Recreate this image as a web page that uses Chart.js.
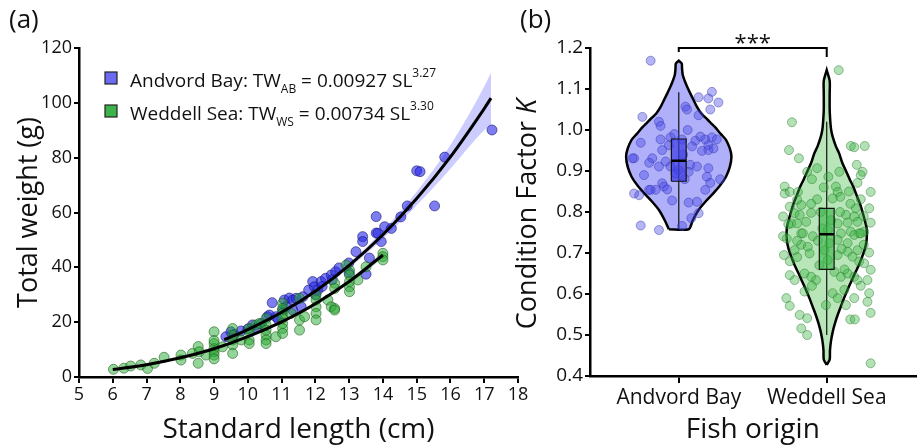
<!DOCTYPE html>
<html>
<head>
<meta charset="utf-8">
<script src="https://cdn.jsdelivr.net/npm/chart.js@4.4.1/dist/chart.umd.min.js"></script>
<style>
html, body { margin: 0; padding: 0; background: #fff; }
#wrap { position: relative; width: 921px; height: 448px; overflow: hidden; }
#boxA { position: absolute; left: 0; top: 0; width: 540px; height: 448px; }
#boxB { position: absolute; left: 495px; top: 0; width: 426px; height: 448px; }
</style>
</head>
<body>
<div id="wrap">
  <div id="boxA"><canvas id="chartA"></canvas></div>
  <div id="boxB"><canvas id="chartB"></canvas></div>
</div>
<script>
// ---------- panel (a): length-weight ----------
var groups = ["Andvord Bay", "Weddell Sea"];
var groupSubs = ["AB", "WS"];
var fitCoefs = ["0.00927", "0.00734"];
var fitExps = ["3.27", "3.30"];

var abLength = [9.35, 9.5, 9.6, 9.8, 10.0, 10.14, 10.24, 10.4, 10.58, 10.64, 10.72, 10.83, 10.9, 11.03, 11.08, 11.13,
  11.23, 11.33, 11.33, 11.43, 11.58, 11.63, 11.8, 11.92, 11.97, 12.07, 12.17, 12.3, 12.0, 12.2, 12.47, 12.6, 12.7,
  12.5, 12.99, 13.0, 13.2, 13.4, 13.4, 13.6, 13.5, 13.8, 13.8, 13.85, 13.95, 14.05, 14.25, 14.53, 14.72, 15.0, 15.1,
  15.53, 15.83, 17.23];
var abWeight = [14.7, 16.5, 15.5, 16.8, 17.5, 19.0, 17.7, 19.5, 22.0, 22.6, 27.1, 22.0, 21.0, 24.4, 28.1, 25.6,
  28.8, 28.1, 24.4, 28.7, 25.6, 29.3, 31.7, 34.8, 32.9, 31.7, 34.8, 36.0, 30.0, 33.0, 37.2, 38.4, 39.8,
  35.5, 41.6, 38.0, 45.7, 51.2, 49.4, 43.4, 37.5, 58.5, 52.5, 52.4, 49.4, 54.8, 54.2, 58.4, 62.4, 75.2, 74.9,
  62.4, 80.2, 90.1];

var wsLength = [6.02, 6.33, 6.53, 6.83, 7.03, 7.23, 7.52, 8.02, 8.02, 8.36, 8.53, 8.53, 8.56, 8.76, 9.0, 9.0, 9.0,
  9.0, 9.0, 9.0, 9.0, 9.25, 9.55, 9.55, 9.55, 9.55, 9.55, 9.8, 10.04, 10.04, 10.04, 10.04, 10.24, 10.34, 10.54,
  10.54, 10.54, 10.54, 10.54, 10.54, 10.83, 11.03, 11.03, 11.03, 11.03, 11.03, 11.03, 11.03, 11.28, 11.53, 11.53,
  11.53, 11.68, 12.02, 12.02, 12.02, 12.02, 12.02, 12.37, 12.47, 12.57, 12.57, 12.57, 12.57, 13.01, 13.01, 13.01,
  13.01, 13.01, 13.26, 13.5, 14.0, 14.0, 14.0, 12.91];
var wsWeight = [2.8, 3.2, 4.0, 4.4, 3.1, 5.0, 7.2, 8.0, 6.2, 8.6, 11.1, 5.0, 9.2, 8.0, 16.5, 12.2, 10.4,
  9.2, 8.0, 13.3, 6.6, 11.0, 17.7, 15.3, 13.5, 11.7, 8.6, 13.5, 17.7, 16.5, 13.5, 12.2, 19.0, 19.5, 21.4,
  19.0, 17.1, 15.3, 13.5, 12.2, 14.7, 26.9, 25.0, 23.2, 21.4, 19.5, 17.7, 15.9, 23.2, 28.7, 20.8,
  17.1, 22.0, 29.9, 28.1, 25.6, 23.2, 20.8, 28.1, 25.6, 34.2, 32.3, 25.0, 24.4, 39.0, 37.2, 34.8,
  32.9, 31.1, 35.4, 40.2, 45.1, 43.9, 42.7, 40.8];

// fitted curves and their confidence bands, read at whole cm
var abFitLength = [9.3, 10, 11, 12, 13, 14, 15, 16, 17, 17.2];
var abFitWeight = [13.6, 17.3, 23.6, 31.3, 40.7, 51.9, 65.1, 80.3, 97.9, 101.7];
var abBandLow   = [13.0, 16.8, 23.0, 30.6, 39.8, 50.4, 62.6, 76.0, 90.0, 92.0];
var abBandHigh  = [14.2, 17.8, 24.2, 32.0, 41.6, 53.4, 67.6, 84.6, 106.0, 111.0];

var wsFitLength = [6, 7, 8, 9, 10, 11, 12, 13, 14];
var wsFitWeight = [2.7, 4.5, 7.0, 10.3, 14.7, 20.1, 26.7, 34.8, 44.5];
var wsBandLow   = [2.6, 4.4, 6.9, 10.1, 14.4, 19.7, 26.2, 34.0, 43.2];
var wsBandHigh  = [2.8, 4.6, 7.1, 10.5, 15.0, 20.5, 27.2, 35.6, 45.8];

// ---------- panel (b): condition factor ----------
var categories = ["Andvord Bay", "Weddell Sea"];
var abK = [1.169, 1.093, 1.080, 1.077, 1.067, 1.050, 1.057, 1.050, 1.032, 1.036, 1.020, 1.010, 0.969, 0.977, 0.982,
  0.977, 0.974, 0.984, 0.977, 0.982, 0.977, 0.963, 0.955, 0.949, 0.951, 0.951, 0.963, 0.911, 0.931, 0.931, 0.923,
  0.911, 0.915, 0.911, 0.907, 0.886, 0.880, 0.871, 0.854, 0.890, 0.854, 0.854, 0.870, 0.862, 0.855, 0.841, 0.828,
  0.823, 0.825, 0.797, 0.785, 0.767, 0.756, 0.766, 0.902, 0.894, 0.898, 0.931, 0.845, 0.854, 0.940, 0.960, 0.920,
  1.000, 0.990, 0.880];
var abJitter = [-0.19, 0.224, 0.134, 0.20, 0.268, 0.213, 0.045, 0.056, -0.246, 0.134, -0.134, -0.123, -0.257, -0.123, -0.056,
  0.022, 0.112, 0.146, 0.179, 0.224, 0.257, 0.20, 0.235, 0.157, 0.20, -0.112, -0.067, -0.134, -0.179, -0.302, -0.089,
  -0.056, 0.078, 0.123, 0.20, 0.19, 0.28, 0.213, 0.179, -0.235, -0.201, -0.156, -0.112, -0.10, -0.078, -0.268, -0.045,
  0.067, 0.123, 0.134, 0.085, -0.257, -0.134, 0.022, 0.0, -0.022, 0.067, -0.313, -0.302, -0.19, 0.03, 0.09, -0.2,
  0.06, -0.03, 0.04];

var wsK = [1.146, 1.019, 0.961, 0.958, 0.961, 0.951, 0.931, 0.907, 0.898, 0.915, 0.898, 0.890, 0.886, 0.898, 0.871,
  0.849, 0.862, 0.845, 0.849, 0.849, 0.862, 0.849, 0.837, 0.831, 0.833, 0.831, 0.813, 0.817, 0.820, 0.809, 0.809,
  0.793, 0.789, 0.789, 0.797, 0.793, 0.798, 0.772, 0.772, 0.776, 0.772, 0.774, 0.776, 0.774, 0.752, 0.748, 0.752,
  0.748, 0.741, 0.741, 0.748, 0.756, 0.735, 0.748, 0.730, 0.744, 0.748, 0.732, 0.724, 0.695, 0.707, 0.720, 0.715,
  0.699, 0.707, 0.683, 0.724, 0.695, 0.703, 0.691, 0.707, 0.701, 0.679, 0.675, 0.659, 0.634, 0.646, 0.634, 0.650,
  0.642, 0.634, 0.654, 0.642, 0.650, 0.642, 0.634, 0.606, 0.602, 0.590, 0.610, 0.590, 0.573, 0.590, 0.571, 0.573,
  0.602, 0.581, 0.554, 0.549, 0.541, 0.538, 0.538, 0.516, 0.500, 0.431, 0.760, 0.780, 0.800, 0.820, 0.860, 0.790,
  0.710, 0.670, 0.660, 0.730, 0.770, 0.690, 0.620, 0.620, 0.850, 0.880, 0.830, 0.680, 0.720, 0.800];
var wsJitter = [0.081, -0.235, 0.163, 0.186, 0.257, -0.255, -0.188, -0.065, -0.132, 0.203, 0.242, 0.23, 0.011, 0.085, 0.208,
  0.297, -0.284, -0.284, -0.25, -0.195, 0.062, 0.074, 0.092, -0.065, 0.04, 0.23, -0.25, -0.172, -0.105, 0.197, 0.287,
  0.13, 0.186, -0.295, -0.217, -0.183, -0.105, -0.24, -0.2, -0.139, 0.074, 0.141, 0.208, 0.297, 0.253, 0.219, 0.163,
  -0.172, -0.094, -0.295, 0.096, 0.007, -0.27, -0.161, -0.06, 0.186, 0.23, 0.074, 0.141, -0.289, -0.217, -0.172, -0.128,
  -0.116, -0.015, 0.007, 0.018, 0.074, 0.141, 0.174, 0.208, 0.287, 0.219, 0.253, 0.297, 0.275, -0.25, -0.217, -0.15,
  -0.105, -0.072, 0.052, 0.096, 0.141, 0.186, 0.208, -0.15, 0.04, 0.074, 0.119, 0.186, 0.13, -0.273, -0.25, -0.005,
  0.287, 0.275, 0.297, -0.183, -0.132, 0.159, 0.19, -0.172, -0.132, 0.297, -0.03, 0.03, -0.04, 0.16, -0.02, 0.25,
  0.1, -0.05, 0.12, -0.2, -0.26, -0.2, -0.1, 0.23, 0.15, -0.1, -0.2, -0.25, 0.25, 0.09];

// violin outlines: K level and half width (density)
var abViolinK = [0.758, 0.78, 0.805, 0.825, 0.846, 0.865, 0.886, 0.91, 0.935, 0.955, 0.976, 0.99, 1.008, 1.025,
  1.041, 1.057, 1.073, 1.09, 1.106, 1.12, 1.134, 1.15, 1.162, 1.169];
var abViolinW = [0.067, 0.095, 0.134, 0.18, 0.235, 0.28, 0.319, 0.345, 0.356, 0.345, 0.319, 0.285, 0.242, 0.195,
  0.151, 0.122, 0.10, 0.077, 0.056, 0.04, 0.027, 0.022, 0.02, 0.0];
var wsViolinK = [0.427, 0.44, 0.463, 0.488, 0.51, 0.529, 0.55, 0.569, 0.59, 0.61, 0.63, 0.65, 0.67, 0.691, 0.71,
  0.732, 0.76, 0.78, 0.80, 0.821, 0.84, 0.862, 0.88, 0.902, 0.92, 0.943, 0.96, 0.984, 1.0, 1.017, 1.05, 1.09, 1.12, 1.146];
var wsViolinW = [0.0, 0.02, 0.022, 0.03, 0.042, 0.056, 0.075, 0.095, 0.117, 0.14, 0.165, 0.19, 0.217, 0.24, 0.258,
  0.27, 0.27, 0.257, 0.242, 0.224, 0.203, 0.179, 0.155, 0.128, 0.105, 0.084, 0.062, 0.04, 0.03, 0.025, 0.02, 0.02, 0.02, 0.0];

var boxQ1 = [0.875, 0.660];
var boxMedian = [0.925, 0.746];
var boxQ3 = [0.978, 0.809];
var whiskerLow = [0.758, 0.500];
var whiskerHigh = [1.092, 1.020];
var sigLabel = "***";

// ---------- helpers ----------
var FONT = '"Open Sans", "DejaVu Sans", sans-serif';

function pairs(xs, ys) {
  return xs.map(function (x, i) { return { x: x, y: ys[i] }; });
}

function jittered(center, offsets, ys) {
  return ys.map(function (y, i) { return { x: center + offsets[i], y: y }; });
}

function violinShape(center, levels, widths) {
  var pts = [];
  for (var i = 0; i < levels.length; i++) pts.push({ x: center - widths[i], y: levels[i] });
  for (var j = levels.length - 1; j >= 0; j--) pts.push({ x: center + widths[j], y: levels[j] });
  pts.push(pts[0]);
  return pts;
}

var boxHalf = 0.05;
function boxShape(i) {
  return [
    { x: i - boxHalf, y: boxQ1[i] }, { x: i + boxHalf, y: boxQ1[i] },
    { x: i + boxHalf, y: boxQ3[i] }, { x: i - boxHalf, y: boxQ3[i] },
    { x: i - boxHalf, y: boxQ1[i] }
  ];
}

Chart.defaults.font.family = FONT;
Chart.defaults.color = "#111";

var panelLabel = {
  id: "panelLabel",
  afterDraw: function (chart, args, opts) {
    var ctx = chart.ctx;
    ctx.save();
    ctx.font = "26px " + FONT;
    ctx.fillStyle = "#111";
    ctx.textBaseline = "alphabetic";
    ctx.fillText(opts.text, opts.x, 28);
    ctx.restore();
  }
};

var fitLegend = {
  id: "fitLegend",
  afterDraw: function (chart) {
    var ctx = chart.ctx;
    var fills = ["#6c6cf2", "#3cb44b"];
    ctx.save();
    ctx.textBaseline = "alphabetic";
    for (var i = 0; i < groups.length; i++) {
      var y = 87 + i * 33;
      ctx.fillStyle = fills[i];
      ctx.fillRect(105, y - 15, 12, 12);
      ctx.strokeStyle = "#222";
      ctx.lineWidth = 1.2;
      ctx.strokeRect(105, y - 15, 12, 12);
      ctx.fillStyle = "#111";
      var x = 130;
      var t = groups[i] + ": TW";
      ctx.font = "19px " + FONT;
      ctx.fillText(t, x, y);
      x += ctx.measureText(t).width;
      ctx.font = "12px " + FONT;
      ctx.fillText(groupSubs[i], x, y + 6);
      x += ctx.measureText(groupSubs[i]).width;
      t = " = " + fitCoefs[i] + " SL";
      ctx.font = "19px " + FONT;
      ctx.fillText(t, x, y);
      x += ctx.measureText(t).width;
      ctx.font = "12px " + FONT;
      ctx.fillText(fitExps[i], x, y - 10);
    }
    ctx.restore();
  }
};

// ---------- chart (a) ----------
new Chart(document.getElementById("chartA"), {
  type: "scatter",
  data: {
    datasets: [
      { data: pairs(abFitLength, abFitWeight), showLine: true, borderColor: "#000", borderWidth: 3,
        pointRadius: 0, cubicInterpolationMode: "monotone", order: 0 },
      { data: pairs(wsFitLength, wsFitWeight), showLine: true, borderColor: "#000", borderWidth: 3,
        pointRadius: 0, cubicInterpolationMode: "monotone", order: 0 },
      { data: pairs(wsLength, wsWeight), pointRadius: 5, pointBackgroundColor: "rgba(40,170,50,0.5)",
        pointBorderColor: "rgba(20,90,20,0.55)", pointBorderWidth: 1, order: 1 },
      { data: pairs(abLength, abWeight), pointRadius: 5, pointBackgroundColor: "rgba(40,40,230,0.6)",
        pointBorderColor: "rgba(20,20,120,0.6)", pointBorderWidth: 1, order: 2 },
      { data: pairs(abFitLength, abBandHigh), showLine: true, borderWidth: 0, pointRadius: 0,
        cubicInterpolationMode: "monotone", fill: "+1", backgroundColor: "rgba(110,110,255,0.35)", order: 3 },
      { data: pairs(abFitLength, abBandLow), showLine: true, borderWidth: 0, pointRadius: 0,
        cubicInterpolationMode: "monotone", order: 3 },
      { data: pairs(wsFitLength, wsBandHigh), showLine: true, borderWidth: 0, pointRadius: 0,
        cubicInterpolationMode: "monotone", fill: "+1", backgroundColor: "rgba(60,180,60,0.25)", order: 3 },
      { data: pairs(wsFitLength, wsBandLow), showLine: true, borderWidth: 0, pointRadius: 0,
        cubicInterpolationMode: "monotone", order: 3 }
    ]
  },
  options: {
    responsive: true,
    maintainAspectRatio: false,
    animation: false,
    devicePixelRatio: 1,
    layout: { padding: { left: 0, top: 48, right: 22, bottom: 0 } },
    scales: {
      x: {
        type: "linear", min: 5, max: 18,
        ticks: { stepSize: 1, font: { size: 18 }, padding: 1, color: "#111" },
        grid: { drawOnChartArea: false, color: "#000", lineWidth: 2, tickLength: 6 },
        border: { color: "#000", width: 2.5 },
        title: { display: true, text: "Standard length (cm)", font: { size: 28 }, color: "#111",
          padding: { top: 0, bottom: 1 } },
        afterFit: function (s) { s.height = 71; }
      },
      y: {
        min: 0, max: 120,
        ticks: { stepSize: 20, font: { size: 18 }, padding: 2, color: "#111" },
        grid: { drawOnChartArea: false, color: "#000", lineWidth: 2, tickLength: 5 },
        border: { color: "#000", width: 2.5 },
        title: { display: true, text: "Total weight (g)", font: { size: 27 }, color: "#111",
          padding: { top: 13, bottom: 0 } },
        afterFit: function (s) { s.width = 79; }
      }
    },
    plugins: {
      legend: { display: false },
      tooltip: { enabled: false },
      panelLabel: { text: "(a)", x: 9 }
    }
  },
  plugins: [panelLabel, fitLegend]
});

// ---------- chart (b) ----------
var yTitleB = {
  id: "yTitleB",
  afterDraw: function (chart) {
    var ctx = chart.ctx, area = chart.chartArea;
    var a = "Condition Factor ", b = "K";
    ctx.save();
    ctx.translate(33, (area.top + area.bottom) / 2 + 2);
    ctx.rotate(-Math.PI / 2);
    ctx.textBaseline = "middle";
    ctx.fillStyle = "#111";
    ctx.font = "27px " + FONT;
    var wa = ctx.measureText(a).width;
    ctx.font = "italic 27px " + FONT;
    var wb = ctx.measureText(b).width;
    var x0 = -(wa + wb) / 2;
    ctx.font = "27px " + FONT;
    ctx.fillText(a, x0, 0);
    ctx.font = "italic 27px " + FONT;
    ctx.fillText(b, x0 + wa, 0);
    ctx.restore();
  }
};

var sigText = {
  id: "sigText",
  afterDraw: function (chart) {
    var ctx = chart.ctx;
    var xs = chart.scales.x, ys = chart.scales.y;
    ctx.save();
    ctx.font = "22px " + FONT;
    ctx.fillStyle = "#111";
    ctx.textAlign = "center";
    ctx.textBaseline = "alphabetic";
    ctx.fillText(sigLabel, xs.getPixelForValue(0.5), ys.getPixelForValue(1.2) + 2);
    ctx.restore();
  }
};

new Chart(document.getElementById("chartB"), {
  type: "scatter",
  data: {
    datasets: [
      { data: [{ x: 0, y: 1.19 }, { x: 0, y: 1.2 }, { x: 1, y: 1.2 }, { x: 1, y: 1.178 }], showLine: true,
        borderColor: "#000", borderWidth: 2, pointRadius: 0, clip: false, order: 0 },
      // medians
      { data: [{ x: -boxHalf, y: boxMedian[0] }, { x: boxHalf, y: boxMedian[0] }], showLine: true,
        borderColor: "#000", borderWidth: 2.5, pointRadius: 0, order: 0 },
      { data: [{ x: 1 - boxHalf, y: boxMedian[1] }, { x: 1 + boxHalf, y: boxMedian[1] }], showLine: true,
        borderColor: "#000", borderWidth: 2.5, pointRadius: 0, order: 0 },
      // boxes
      { data: boxShape(0), showLine: true, fill: "shape", backgroundColor: "rgba(60,60,225,0.7)",
        borderColor: "#111", borderWidth: 1.2, pointRadius: 0, order: 1 },
      { data: boxShape(1), showLine: true, fill: "shape", backgroundColor: "rgba(55,180,70,0.6)",
        borderColor: "#111", borderWidth: 1.2, pointRadius: 0, order: 1 },
      // jittered points
      { data: jittered(0, abJitter, abK), pointRadius: 4.5, pointBackgroundColor: "rgba(70,70,230,0.4)",
        pointBorderColor: "rgba(50,50,170,0.45)", pointBorderWidth: 1, order: 2 },
      { data: jittered(1, wsJitter, wsK), pointRadius: 4.5, pointBackgroundColor: "rgba(60,180,70,0.4)",
        pointBorderColor: "rgba(40,120,40,0.45)", pointBorderWidth: 1, order: 2 },
      // whiskers
      { data: [{ x: 0, y: whiskerLow[0] }, { x: 0, y: whiskerHigh[0] }], showLine: true,
        borderColor: "#111", borderWidth: 1.2, pointRadius: 0, order: 3 },
      { data: [{ x: 1, y: whiskerLow[1] }, { x: 1, y: whiskerHigh[1] }], showLine: true,
        borderColor: "#111", borderWidth: 1.2, pointRadius: 0, order: 3 },
      // violins
      { data: violinShape(0, abViolinK, abViolinW), showLine: true, fill: "shape", tension: 0.25,
        backgroundColor: "rgba(110,110,245,0.55)", borderColor: "#000", borderWidth: 2.5, pointRadius: 0, order: 4 },
      { data: violinShape(1, wsViolinK, wsViolinW), showLine: true, fill: "shape", tension: 0.25,
        backgroundColor: "rgba(125,210,125,0.55)", borderColor: "#000", borderWidth: 2.5, pointRadius: 0, order: 4 }
    ]
  },
  options: {
    responsive: true,
    maintainAspectRatio: false,
    animation: false,
    devicePixelRatio: 1,
    layout: { padding: { left: 0, top: 48, right: 3, bottom: 0 } },
    scales: {
      x: {
        type: "linear", min: -0.6, max: 1.6,
        afterBuildTicks: function (s) { s.ticks = categories.map(function (c, i) { return { value: i }; }); },
        ticks: { font: { size: 21 }, padding: 2, color: "#111",
          callback: function (v) { return categories[v]; } },
        grid: { drawOnChartArea: false, color: "#000", lineWidth: 2, tickLength: 7 },
        border: { color: "#000", width: 2.5 },
        title: { display: true, text: "Fish origin", font: { size: 28 }, color: "#111",
          padding: { top: 0, bottom: 1 } },
        afterFit: function (s) { s.height = 72; }
      },
      y: {
        min: 0.4, max: 1.2,
        ticks: { stepSize: 0.1, font: { size: 19 }, padding: 2, color: "#111",
          callback: function (v) { return v.toFixed(1); } },
        grid: { drawOnChartArea: false, color: "#000", lineWidth: 2, tickLength: 5 },
        border: { color: "#000", width: 2.5 },
        afterFit: function (s) { s.width = 95; }
      }
    },
    plugins: {
      legend: { display: false },
      tooltip: { enabled: false },
      panelLabel: { text: "(b)", x: 25 }
    }
  },
  plugins: [panelLabel, yTitleB, sigText]
});
</script>
</body>
</html>
